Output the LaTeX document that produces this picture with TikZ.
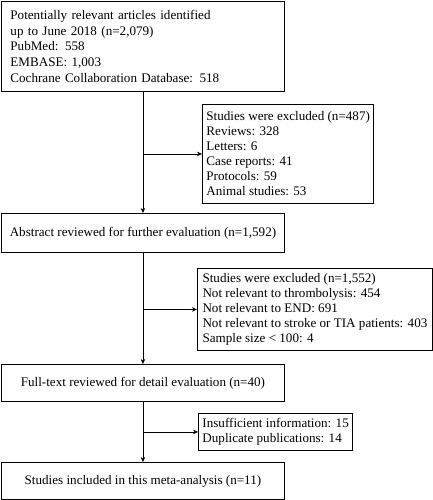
\documentclass[tikz,border=0pt]{standalone}
\usepackage{fontspec}
\setmainfont{Liberation Serif}
\usetikzlibrary{arrows.meta, positioning}

\begin{document}
\begin{tikzpicture}[x=1pt, y=-1pt, >={Stealth[length=5pt, width=4.5pt]}, line width=0.9pt,
		font=\fontsize{13.1}{15}\selectfont,
		mainbox/.style={draw, rectangle, anchor=north west, minimum width=283pt, minimum height=#1, inner sep=0pt, align=center},
		sidebox/.style={draw, rectangle, anchor=north west, minimum height=#1, inner xsep=4pt, inner ysep=0pt, align=left}]
	\useasboundingbox (0, 0) rectangle (433, 500);
	
	% Main path
	\node[mainbox=90pt, text width=265pt, align=left, font=\fontsize{13.1}{15.6}\selectfont] (ident) at (1, 1) {Potentially relevant articles identified\\ up to June 2018 (n=2,079)\\ PubMed: 558\\ EMBASE: 1,003\\ Cochrane Collaboration Database: 518};
	\node[mainbox=39pt] (abstr) at (1, 213) {Abstract reviewed for further evaluation (n=1,592)};
	\node[mainbox=37pt] (full) at (1, 364) {Full-text reviewed for detail evaluation (n=40)};
	\node[mainbox=37pt] (incl) at (1, 462) {Studies included in this meta-analysis (n=11)};
	
	% Excluded studies
	\node[sidebox=99pt, minimum width=168pt] (excl1) at (202, 104) {Studies were excluded (n=487)\\ Reviews: 328\\ Letters: 6\\ Case reports: 41\\ Protocols: 59\\ Animal studies: 53};
	\node[sidebox=82pt, minimum width=235pt] (excl2) at (197, 268) {Studies were excluded (n=1,552)\\ Not relevant to thrombolysis: 454\\ Not relevant to END: 691\\ Not relevant to stroke or TIA patients: 403\\ Sample size < 100: 4};
	\node[sidebox=37pt, minimum width=148pt] (excl3) at (198, 413) {Insufficient information: 15\\ Duplicate publications: 14};
	
	\draw[->] (ident) -- (abstr);
	\draw[->] (abstr) -- (full);
	\draw[->] (full) -- (incl);
	\draw[->] (ident.south |- excl1.west) -- (excl1);
	\draw[->] (abstr.south |- excl2.west) -- (excl2);
	\draw[->] (full.south |- excl3.west) -- (excl3);
\end{tikzpicture}
\end{document}
